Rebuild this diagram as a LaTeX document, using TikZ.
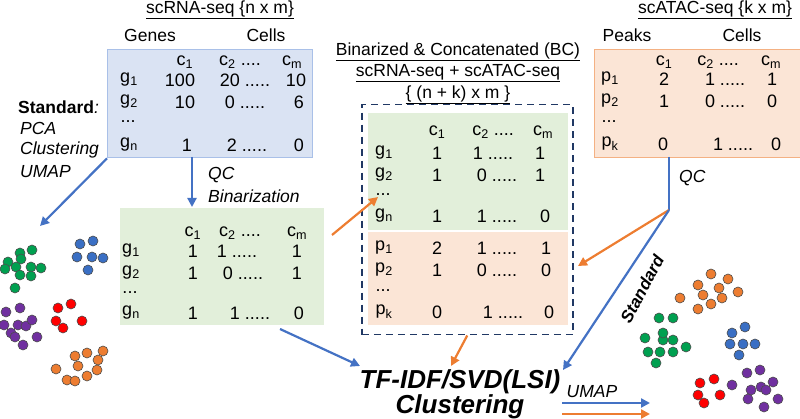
\documentclass[tikz,border=0pt]{standalone}
\usepackage{fontspec}
\setmainfont{Liberation Sans}
\usetikzlibrary{arrows.meta}
\definecolor{bbox}{HTML}{DAE3F3}\definecolor{bline}{HTML}{A9C0E8}
\definecolor{gbox}{HTML}{E2EFDA}\definecolor{obox}{HTML}{FBE5D6}\definecolor{oline}{HTML}{F4B183}
\definecolor{ablue}{HTML}{4472C4}\definecolor{aorg}{HTML}{ED7D31}\definecolor{navy}{HTML}{203864}
\definecolor{dgreen}{HTML}{00A050}\definecolor{dblue}{HTML}{3A6FC4}\definecolor{dpurple}{HTML}{7030A0}\definecolor{dred}{HTML}{FF0000}
\tikzset{
 cell/.style={inner sep=0pt,font=\fontsize{18}{19}\selectfont},
 lab/.style={inner sep=0pt,font=\fontsize{17.5}{19}\selectfont},
 ital/.style={inner sep=0pt,font=\fontsize{17.5}{19}\selectfont\itshape},
 barr/.style={draw=ablue,line width=2.2pt,-{Triangle[length=9pt,width=9pt]}},
 oarr/.style={draw=aorg,line width=2.2pt,-{Triangle[length=9pt,width=9pt]}},
 dot/.style={circle,draw=black!70,line width=0.6pt,minimum size=10pt,inner sep=0pt},
}
\newcommand{\sub}[2]{#1\textsubscript{#2}}
\newcommand{\fd}{.....}
\newcommand{\fr}{....}
\newcommand{\vd}{...}
\begin{document}
\begin{tikzpicture}[x=1pt,y=-1pt]
\useasboundingbox (0,0) rectangle (800,419);
% boxes
\node[fill=bbox,draw=bline,minimum width=205pt,minimum height=108pt,anchor=north west,inner sep=0pt] (rna) at (107,49) {};
\node[fill=obox,draw=oline,minimum width=206pt,minimum height=108pt,anchor=north west,inner sep=0pt] (atac) at (594,49) {};
\node[fill=gbox,minimum width=204pt,minimum height=117pt,anchor=north west,inner sep=0pt] (bin) at (120,208) {};
\node[fill=gbox,minimum width=200pt,minimum height=117pt,anchor=north west,inner sep=0pt] (bcg) at (368,113) {};
\node[fill=obox,minimum width=200pt,minimum height=93pt,anchor=north west,inner sep=0pt] (bco) at (368,232) {};
\node[draw=navy,line width=1.5pt,dash pattern=on 7pt off 5pt,minimum width=211pt,minimum height=230pt,anchor=north west,inner sep=0pt] (bc) at (361,104) {};
% titles
\node[lab] (t1) at (220,10) {\underline{scRNA-seq \{n x m\}}};
\node[lab] (t2) at (715,10) {\underline{scATAC-seq \{k x m\}}};
\node[lab] (t3) at (458,52) {\underline{Binarized \& Concatenated (BC)}};
\node[lab] (t4) at (458,73) {\underline{scRNA-seq + scATAC-seq}};
\node[lab] (t5) at (458,95) {\underline{\{ (n + k) x m \}}};
\node[lab] (h1) at (150,35) {Genes};
\node[lab] (h2) at (266,35) {Cells};
\node[lab] (h3) at (627,35) {Peaks};
\node[lab] (h4) at (742,35) {Cells};
% scRNA table
\foreach \x/\t [count=\i] in {185/{\sub{c}{1}},240/{\sub{c}{2} \fr},292/{\sub{c}{m}}} \node[cell] (ra\i) at (\x,62) {\t};
\foreach \x/\t [count=\i] in {129/{\sub{g}{1}},180/100,245/{20 \fd},296/10} \node[cell] (rb\i) at (\x,80) {\t};
\foreach \x/\t [count=\i] in {129/{\sub{g}{2}},185/10,245/{0 \fd},299/6} \node[cell] (rc\i) at (\x,102) {\t};
\node[cell] (rd1) at (128,122) {\vd};
\foreach \x/\t [count=\i] in {129/{\sub{g}{n}},187/1,247/{2 \fd},299/0} \node[cell] (re\i) at (\x,145) {\t};
% scATAC table
\foreach \x/\t [count=\i] in {664/{\sub{c}{1}},718/{\sub{c}{2} \fr},771/{\sub{c}{m}}} \node[cell] (aa\i) at (\x,62) {\t};
\foreach \x/\t [count=\i] in {610/{\sub{p}{1}},664/2,725/{1 \fd},772/1} \node[cell] (ab\i) at (\x,79) {\t};
\foreach \x/\t [count=\i] in {610/{\sub{p}{2}},664/1,725/{0 \fd},772/0} \node[cell] (ac\i) at (\x,101) {\t};
\node[cell] (ad1) at (609,122) {\vd};
\foreach \x/\t [count=\i] in {610/{\sub{p}{k}},663/0,733/{1 \fd},776/0} \node[cell] (ae\i) at (\x,144) {\t};
% binarized table
\foreach \x/\t [count=\i] in {193/{\sub{c}{1}},240/{\sub{c}{2} \fr},297/{\sub{c}{m}}} \node[cell] (ba\i) at (\x,233) {\t};
\foreach \x/\t [count=\i] in {131/{\sub{g}{1}},193/1,237/{1 \fd},297/1} \node[cell] (bb\i) at (\x,251) {\t};
\foreach \x/\t [count=\i] in {131/{\sub{g}{2}},193/1,243/{0 \fd},297/1} \node[cell] (bc\i) at (\x,273) {\t};
\node[cell] (bd1) at (130,293) {\vd};
\foreach \x/\t [count=\i] in {131/{\sub{g}{n}},193/1,250/{1 \fd},299/0} \node[cell] (be\i) at (\x,313) {\t};
% BC table
\foreach \x/\t [count=\i] in {437/{\sub{c}{1}},493/{\sub{c}{2} \fr},543/{\sub{c}{m}}} \node[cell] (ca\i) at (\x,132) {\t};
\foreach \x/\t [count=\i] in {384/{\sub{g}{1}},437/1,493/{1 \fd},540/1} \node[cell] (cb\i) at (\x,153) {\t};
\foreach \x/\t [count=\i] in {384/{\sub{g}{2}},437/1,497/{0 \fd},540/1} \node[cell] (cc\i) at (\x,175) {\t};
\node[cell] (cd1) at (383,195) {\vd};
\foreach \x/\t [count=\i] in {384/{\sub{g}{n}},437/1,497/{1 \fd},545/0} \node[cell] (ce\i) at (\x,216) {\t};
\foreach \x/\t [count=\i] in {384/{\sub{p}{1}},437/2,497/{1 \fd},546/1} \node[cell] (cf\i) at (\x,248) {\t};
\foreach \x/\t [count=\i] in {384/{\sub{p}{2}},437/1,497/{0 \fd},546/0} \node[cell] (cg\i) at (\x,270) {\t};
\node[cell] (ch1) at (383,291) {\vd};
\foreach \x/\t [count=\i] in {384/{\sub{p}{k}},437/0,503/{1 \fd},549/0} \node[cell] (ci\i) at (\x,312) {\t};
% labels
\node[lab,anchor=west] (s1) at (18,107) {\textbf{Standard}\textit{:}};
\node[ital,anchor=west] (s2) at (20,128) {PCA};
\node[ital,anchor=west] (s3) at (20,150) {Clustering};
\node[ital,anchor=west] (s4) at (20,172) {UMAP};
\node[ital,anchor=west] (q1) at (208,175) {QC};
\node[ital,anchor=west] (q2) at (208,196) {Binarization};
\node[ital,anchor=west] (q3) at (679,178) {QC};
\node[inner sep=0pt,font=\fontsize{17}{18}\selectfont\bfseries\itshape,rotate=62] (st) at (642,289) {Standard};
\node[inner sep=0pt,font=\fontsize{26}{28}\selectfont\bfseries\itshape] (tf) at (460,382) {TF-IDF/SVD(LSI)};
\node[inner sep=0pt,font=\fontsize{26}{28}\selectfont\bfseries\itshape] (cl) at (460,407) {Clustering};
\node[ital] (um) at (592,392) {UMAP};
% connectors
\coordinate (c1) at (40,226);
\coordinate (j) at (669,210);
\coordinate (u1) at (562,403);\coordinate (u2) at (650,403);
\coordinate (u3) at (562,414);\coordinate (u4) at (650,414);
\draw[barr] (rna.south west) ++(0,1) -- (c1);
\draw[barr] (192,157) -- (192,207);
\draw[oarr] (332,235) -- (378,197);
\draw[draw=ablue,line width=2.2pt] (669,157) -- (j);
\draw[oarr] (j) -- (578,266);
\draw[barr] (j) -- (563,370);
\draw[oarr] (bc.south) -- (451,366);
\draw[barr] (280,329) -- (360,366);
\draw[barr] (u1) -- (u2);
\draw[oarr] (u3) -- (u4);
% dots
\foreach \c/\lst in {dgreen/{(20,253),(32,250),(8,262),(21,259),(16,267),(31,267),(41,268),(5,269),(20,275),(31,276),(15,288)},
 dblue/{(80,244),(93,241),(77,257),(92,257),(103,258),(88,270)},
 dpurple/{(6,312),(20,308),(4,325),(18,325),(26,326),(32,320),(11,333),(15,337),(37,337),(23,345)},
 dred/{(58,308),(71,304),(56,321),(82,321),(63,328)},
 aorg/{(75,356),(87,353),(103,351),(98,360),(78,366),(56,369),(67,380),(75,381),(87,376),(97,370)},
 aorg/{(711,274),(728,279),(698,285),(719,288),(738,292),(680,298),(703,295),(722,298),(711,304),(698,309)},
 dgreen/{(645,338),(663,340),(673,340),(686,347),(648,352),(660,352),(673,352),(656,363),(659,318),(673,318),(663,333)},
 dblue/{(745,327),(732,333),(730,344),(743,344),(755,344),(739,355)},
 dred/{(700,383),(714,379),(698,395),(720,395),(704,403)},
 dpurple/{(747,373),(760,370),(773,382),(761,387),(751,390),(766,390),(748,399),(778,399),(764,407),(732,385)}}
 {\foreach \p [count=\k] in \lst {\node[dot,fill=\c] (d\c\k) at \p {};}}
\end{tikzpicture}
\end{document}
